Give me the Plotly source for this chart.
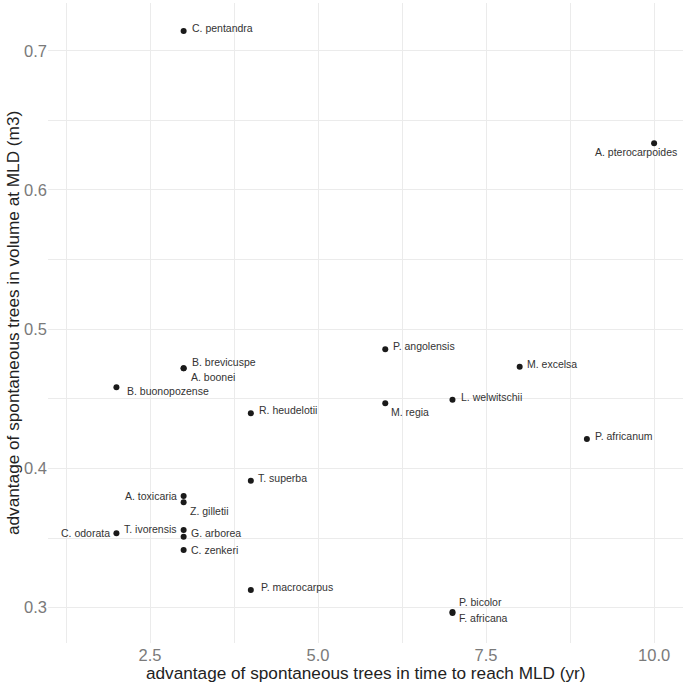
import plotly.graph_objects as go

# species and their advantages (spontaneous vs planted trees)
species = [
    "C. pentandra", "A. pterocarpoides", "P. angolensis", "M. excelsa",
    "M. regia", "L. welwitschii", "P. africanum", "P. bicolor", "F. africana",
    "B. brevicuspe", "A. boonei", "B. buonopozense", "R. heudelotii",
    "T. superba", "A. toxicaria", "Z. gilletii", "T. ivorensis", "G. arborea",
    "C. odorata", "C. zenkeri", "P. macrocarpus",
]
time_adv = [3, 10, 6, 8, 6, 7, 9, 7, 7, 3, 3, 2, 4, 4, 3, 3, 3, 3, 2, 3, 4]
volume_adv = [
    0.7141, 0.6335, 0.4856, 0.4731, 0.4468, 0.4494, 0.4211, 0.2968, 0.2962,
    0.4719, 0.4719, 0.4583, 0.4396, 0.3912, 0.3802, 0.3757, 0.3558, 0.3510,
    0.3534, 0.3414, 0.3127,
]
x_title = "advantage of spontaneous trees in time to reach MLD (yr)"
y_title = "advantage of spontaneous trees in volume at MLD (m3)"

# label placement (pixel shifts, anchor) like ggrepel put them
label_pos = {
    "C. pentandra": (6, 3, "left"),
    "A. pterocarpoides": (25, -9, "right"),
    "P. angolensis": (6, 3, "left"),
    "M. excelsa": (5, 3, "left"),
    "M. regia": (4, -9, "left"),
    "L. welwitschii": (6.5, 3, "left"),
    "P. africanum": (6, 3, "left"),
    "P. bicolor": (4.5, 10, "left"),
    "F. africana": (5, -5, "left"),
    "B. brevicuspe": (6.5, 6, "left"),
    "A. boonei": (5, -9, "left"),
    "B. buonopozense": (9, -4, "left"),
    "R. heudelotii": (6, 3, "left"),
    "T. superba": (5.5, 3, "left"),
    "A. toxicaria": (-4.5, 0, "right"),
    "Z. gilletii": (4.5, -9, "left"),
    "T. ivorensis": (-4.5, 1, "right"),
    "G. arborea": (5.5, 3.5, "left"),
    "C. odorata": (-4.7, 0.5, "right"),
    "C. zenkeri": (5, 0.5, "left"),
    "P. macrocarpus": (8, 2.5, "left"),
}

fig = go.Figure()

fig.add_trace(go.Scatter(
    x=time_adv, y=volume_adv, mode="markers",
    marker=dict(color="#1a1a1a", size=6),
    hovertext=species, showlegend=False,
))

for name, xv, yv in zip(species, time_adv, volume_adv):
    dx, dy, anchor = label_pos[name]
    fig.add_annotation(
        x=xv, y=yv, text=name, showarrow=False,
        xanchor=anchor, yanchor="middle", xshift=dx, yshift=dy,
        font=dict(size=10.5, color="#333333"),
    )

# axis titles as paper annotations so the panel keeps its size
fig.add_annotation(
    xref="paper", yref="paper", x=0.5, y=0, yshift=-30,
    xanchor="center", yanchor="middle", showarrow=False,
    text=x_title, font=dict(size=17.2, color="#222222"),
)
fig.add_annotation(
    xref="paper", yref="paper", x=0, y=0.5, xshift=-35,
    xanchor="center", yanchor="middle", showarrow=False, textangle=-90,
    text=y_title, font=dict(size=17.2, color="#222222"),
)

grid = "#ebebeb"
fig.update_layout(
    width=685, height=685,
    margin=dict(l=48, r=2, t=3, b=42),
    plot_bgcolor="white", paper_bgcolor="white",
    font=dict(family="Liberation Sans, Arial, sans-serif"),
    xaxis=dict(
        range=[0.982, 10.43], tick0=0, dtick=2.5, tickformat=".1f",
        showgrid=True, gridcolor=grid, gridwidth=1, zeroline=False,
        minor=dict(dtick=1.25, showgrid=True, gridcolor=grid, gridwidth=0.5),
        tickfont=dict(size=16.5, color="#7a7a7a"), automargin=False,
    ),
    yaxis=dict(
        range=[0.2746, 0.7343], tick0=0, dtick=0.1, tickformat=".1f",
        showgrid=True, gridcolor=grid, gridwidth=1, zeroline=False,
        minor=dict(dtick=0.05, showgrid=True, gridcolor=grid, gridwidth=0.5),
        tickfont=dict(size=16.5, color="#7a7a7a"), automargin=False,
    ),
)

# the page body has a default 8px margin; drop it so the figure sits at 0,0
fig.write_html(
    "out.html",
    config={"displayModeBar": False},
    post_script="document.body.style.margin = '0';",
)
